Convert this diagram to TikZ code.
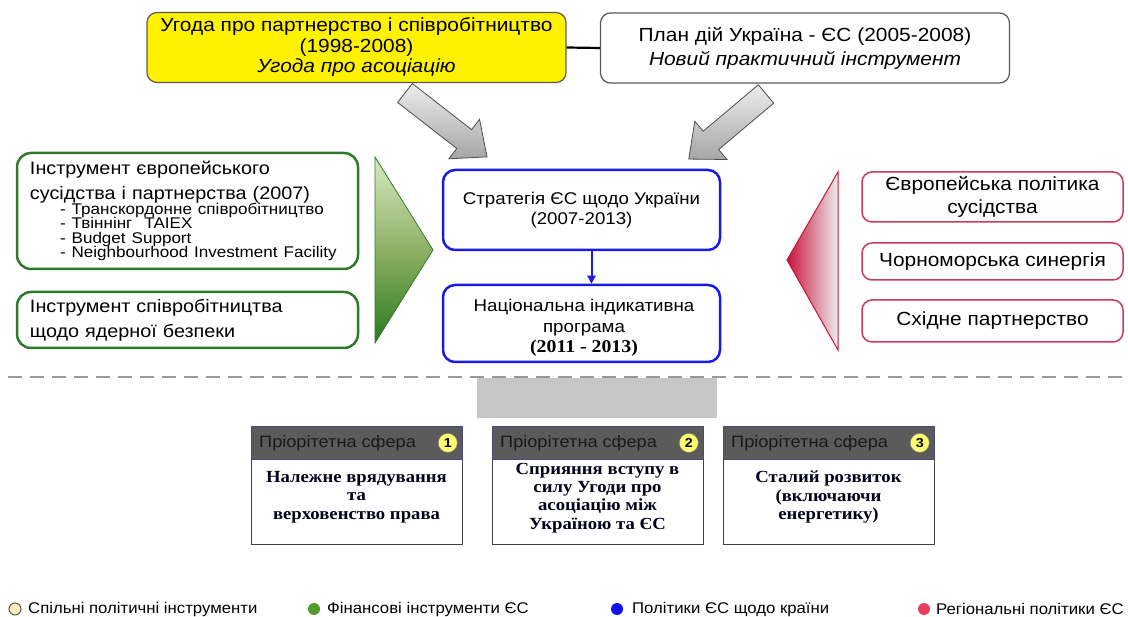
\documentclass[tikz,border=0pt]{standalone}
\usepackage{fontspec}
\usetikzlibrary{arrows.meta}
\setmainfont{Liberation Serif}
\setsansfont{Liberation Sans}
\newfontfamily\arialf[FakeStretch=1.1]{Liberation Sans}
\newfontfamily\serf[FakeStretch=1.1]{Liberation Serif}
\newfontfamily\legf[FakeStretch=1.08]{Liberation Sans}
\definecolor{ybox}{HTML}{FFF200}
\definecolor{gline}{HTML}{2F7A2A}
\definecolor{bline}{HTML}{1A1AE6}
\definecolor{pline}{HTML}{C83C5E}
\definecolor{hdr}{HTML}{5B5B5B}
\definecolor{gtop}{HTML}{D8E8C4}
\definecolor{gmid}{HTML}{8DB064}
\definecolor{gbot}{HTML}{2A7A20}
\definecolor{rtip}{HTML}{C8143C}
\definecolor{legy}{HTML}{F4EFB0}
\definecolor{legg}{HTML}{4E9A2A}
\definecolor{legb}{HTML}{1010F0}
\definecolor{legr}{HTML}{E8405E}
\definecolor{numy}{HTML}{FFFF70}
\begin{document}
\begin{tikzpicture}[x=1pt,y=-1pt,
  topbox/.style={draw=gray!70!black, line width=1.2pt, rounded corners=10pt, align=center,
    font=\arialf\fontsize{19}{20.5}\selectfont, inner sep=0pt},
  gbox/.style={draw=gline, line width=2.5pt, rounded corners=14pt, fill=white, inner sep=0pt},
  bbox/.style={draw=bline, line width=2.5pt, rounded corners=12pt, align=center, inner sep=0pt,
    font=\arialf\fontsize{17}{20}\selectfont},
  pbox/.style={draw=pline, line width=1.5pt, rounded corners=10pt, align=center, inner sep=0pt,
    font=\arialf\fontsize{19}{23}\selectfont},
  prihead/.style={fill=hdr, draw=hdr!80!blue, line width=0.8pt, minimum width=211pt, minimum height=33pt, anchor=north west, inner sep=0pt},
  prititle/.style={anchor=west, font=\arialf\fontsize{16.5}{18}\selectfont, text=black!90, inner sep=0pt},
  numc/.style={circle, fill=numy, draw=black!50, line width=0.5pt, minimum size=19pt, inner sep=0pt, font=\arialf\bfseries\fontsize{13}{13}\selectfont},
  pribody/.style={draw=black!75, line width=1.2pt, fill=white, minimum width=211pt, minimum height=85pt, anchor=north west, inner sep=0pt},
  pritext/.style={align=center, font=\serf\bfseries\fontsize{17}{18.3}\selectfont, text=black!90!blue, inner sep=0pt},
  garrow/.style={draw=black!70, line width=0.8pt, top color=gray!15, bottom color=gray!70},
  legdot/.style={circle, minimum size=12pt, inner sep=0pt},
  legtext/.style={anchor=west, font=\legf\fontsize{15.5}{17}\selectfont, inner sep=0pt}
]
\useasboundingbox (0,0) rectangle (1128,617);

% top boxes
\node[topbox, fill=ybox, minimum width=419pt, minimum height=70pt] (agr) at (356.5,47.5)
  {Угода про партнерство і співробітництво\\(1998-2008)\\\textit{Угода про асоціацію}};
\node[topbox, fill=white, minimum width=409pt, minimum height=70pt, font=\arialf\fontsize{19}{24}\selectfont] (plan) at (805,48)
  {План дій Україна - ЄС (2005-2008)\\\textit{Новий практичний інструмент}};
\draw[line width=2.2pt] (agr.east) -- (plan.west);

% gray block arrows
\begin{scope}[shift={(405,93)}, rotate=-37.9]
  \path[garrow] (0,-12) -- (75,-12) -- (75,-25) -- (104,0) -- (75,25) -- (75,12) -- (0,12) -- cycle;
\end{scope}
\begin{scope}[shift={(766,94)}, rotate=-139.9]
  \path[garrow] (0,-12) -- (72,-12) -- (72,-25) -- (101,0) -- (72,25) -- (72,12) -- (0,12) -- cycle;
\end{scope}

% left green boxes
\node[gbox, minimum width=341pt, minimum height=116pt, text width=315pt, align=left, inner xsep=13pt,
  font=\arialf\fontsize{18}{25}\selectfont] (eni) at (187.5,211)
  {Інструмент європейського\\
   сусідства і партнерства (2007)\\[-10pt]
   {\fontsize{15.5}{14.5}\selectfont\hspace*{30pt}- Транскордонне співробітництво}\\[-10.5pt]
   {\fontsize{15.5}{14.5}\selectfont\hspace*{30pt}- Твіннінг\ \ TAIEX}\\[-10.5pt]
   {\fontsize{15.5}{14.5}\selectfont\hspace*{30pt}- Budget Support}\\[-10.5pt]
   {\fontsize{15.5}{14.5}\selectfont\hspace*{30pt}- Neighbourhood Investment Facility}};
\node[gbox, minimum width=341pt, minimum height=56pt, text width=315pt, align=left, inner xsep=13pt,
  font=\arialf\fontsize{18}{25}\selectfont] (nuc) at (187.5,320)
  {Інструмент співробітництва\\щодо ядерної безпеки};

% green triangle
\path[draw=gline, line width=0.8pt, top color=gtop, bottom color=gbot, middle color=gmid]
  (375,157) -- (433,250) -- (375,343) -- cycle;

% blue boxes
\node[bbox, minimum width=277pt, minimum height=80pt] (strat) at (581.5,210)
  {Стратегія ЄС щодо України\\(2007-2013)};
\node[bbox, minimum width=277pt, minimum height=77pt] (nip) at (581.5,323.5) {};
\node[align=center, inner sep=0pt, font=\arialf\fontsize{17}{20.5}\selectfont] (niptext) at (584,328)
  {Національна індикативна\\програма\\{\serf\bfseries\fontsize{18}{19}\selectfont (2011 - 2013)}};
\draw[bline, line width=2pt, -{Triangle[length=8pt,width=8pt]}] ([xshift=10pt]strat.south) -- ([xshift=10pt]nip.north);

% red triangle
\path[draw=rtip, line width=1pt, left color=rtip, right color=gray!15]
  (838,172) -- (787,260) -- (838,350) -- cycle;

% pink boxes
\node[pbox, minimum width=261pt, minimum height=50pt] (enp) at (992.5,197)
  {Європейська політика\\сусідства};
\node[pbox, minimum width=261pt, minimum height=37pt] (bss) at (992.5,261.5)
  {Чорноморська синергія};
\node[pbox, minimum width=261pt, minimum height=42pt] (eap) at (992.5,321)
  {Східне партнерство};

% dashed separator
\draw[gray!80, line width=2pt, dash pattern=on 14pt off 8pt] (8,377) -- (1128,377);
\node[fill=gray!45, minimum width=240pt, minimum height=40pt, inner sep=0pt, anchor=north west] (gbar) at (477,378) {};

% priority areas
\node[pribody] (b1) at (251,459) {};
\node[prihead] (h1) at (251,426) {};
\node[prititle] (t1) at ([xshift=8pt]h1.west) {Пріорітетна сфера};
\node[numc] (n1) at ([xshift=-15pt]h1.east) {1};
\node[pritext] (p1) at (356.5,497) {Належне врядування\\та\\верховенство права};

\node[pribody] (b2) at (492,459) {};
\node[prihead] (h2) at (492,426) {};
\node[prititle] (t2) at ([xshift=8pt]h2.west) {Пріорітетна сфера};
\node[numc] (n2) at ([xshift=-15pt]h2.east) {2};
\node[pritext] (p2) at (597.5,498) {Сприяння вступу в\\силу Угоди про\\асоціацію між\\Україною та ЄС};

\node[pribody] (b3) at (723,459) {};
\node[prihead] (h3) at (723,426) {};
\node[prititle] (t3) at ([xshift=8pt]h3.west) {Пріорітетна сфера};
\node[numc] (n3) at ([xshift=-15pt]h3.east) {3};
\node[pritext] (p3) at (828.5,497) {Сталий розвиток\\(включаючи\\енергетику)};

% legend
\node[legdot, fill=legy, draw=gray!70!black, line width=1pt] (l1) at (15,609) {};
\node[legtext] (lt1) at (28,609) {Спільні політичні інструменти};
\node[legdot, fill=legg] (l2) at (314,609) {};
\node[legtext] (lt2) at (327,609) {Фінансові інструменти ЄС};
\node[legdot, fill=legb] (l3) at (617,609) {};
\node[legtext] (lt3) at (632,609) {Політики ЄС щодо країни};
\node[legdot, fill=legr] (l4) at (924,609) {};
\node[legtext] (lt4) at (936,609) {Регіональні політики ЄС};
\end{tikzpicture}
\end{document}
